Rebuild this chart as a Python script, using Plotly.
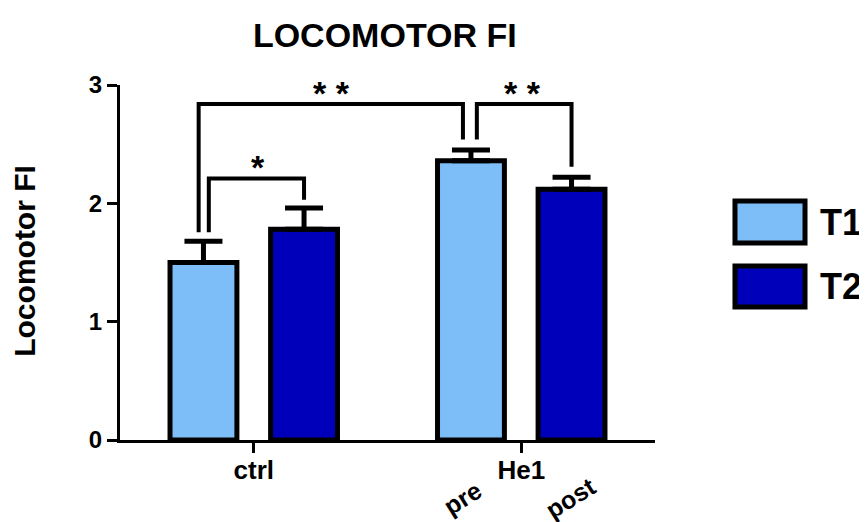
import plotly.graph_objects as go

# ---- data ----
categories = ["ctrl", "He1"]
series_names = ["T1", "T2"]
t1_values = [1.50, 2.36]
t1_errors = [0.18, 0.09]
t2_values = [1.78, 2.12]
t2_errors = [0.18, 0.10]
y_ticks = [0, 1, 2, 3]
sub_labels = ["pre", "post"]
sig_labels = ["* *", "*", "* *"]

T1_COLOR = "#7DBEF8"
T2_COLOR = "#0000BB"
FONT = "Liberation Sans, Arial, sans-serif"

xpos = list(range(len(categories)))
OFF = 0.188
BW = 0.25

fig = go.Figure()
for name, vals, errs, color, off in [
    (series_names[0], t1_values, t1_errors, T1_COLOR, -OFF),
    (series_names[1], t2_values, t2_errors, T2_COLOR, OFF),
]:
    fig.add_trace(go.Bar(
        x=[p + off for p in xpos], y=vals, width=BW, name=name,
        marker=dict(color=color, line=dict(color="black", width=5)),
        error_y=dict(type="data", array=errs, symmetric=False, arrayminus=[0] * len(errs),
                     color="black", thickness=5, width=19),
        showlegend=False,
    ))

# significance brackets (data coords)
def bracket(x0, y0, x1, y1, ytop):
    fig.add_shape(type="path",
                  path=f"M {x0},{y0} L {x0},{ytop} L {x1},{ytop} L {x1},{y1}",
                  line=dict(color="black", width=4), xref="x", yref="y")

top_big = 2.84
# ctrl T1 -> He1 T1
bracket(0 - OFF - 0.018, 1.755, 1 - OFF - 0.03, 2.54, top_big)
# ctrl T1 -> ctrl T2
bracket(0 - OFF + 0.02, 1.755, 0 + OFF, 2.03, 2.21)
# He1 T1 -> He1 T2
bracket(1 - OFF + 0.022, 2.54, 1 + OFF, 2.31, top_big)

star_font = dict(family=FONT, size=34, color="black")
fig.add_annotation(x=(0 - OFF + 1 - OFF) / 2 - 0.022, y=top_big, text=f"<b>{sig_labels[0]}</b>",
                   showarrow=False, xref="x", yref="y", xanchor="center", yanchor="bottom",
                   yshift=-10, font=star_font)
fig.add_annotation(x=(0 - OFF + 0 + OFF) / 2 + 0.015, y=2.21, text=f"<b>{sig_labels[1]}</b>",
                   showarrow=False, xref="x", yref="y", xanchor="center", yanchor="bottom",
                   yshift=-10, font=star_font)
fig.add_annotation(x=(1 - OFF + 1 + OFF) / 2 + 0.005, y=top_big, text=f"<b>{sig_labels[2]}</b>",
                   showarrow=False, xref="x", yref="y", xanchor="center", yanchor="bottom",
                   yshift=-10, font=star_font)

# sub labels pre/post
for lab, off in zip(sub_labels, [-OFF - 0.031, OFF - 0.005]):
    fig.add_annotation(x=1 + off, y=-0.163, xref="x", yref="paper", text=f"<b>{lab}</b>",
                       showarrow=False, textangle=-32, xanchor="center", yanchor="middle",
                       font=dict(family=FONT, size=25, color="black"))

# y axis title
fig.add_annotation(x=-0.18, y=0.504, xref="paper", yref="paper", text="<b>Locomotor FI</b>",
                   showarrow=False, textangle=-90, xanchor="center", yanchor="middle",
                   font=dict(family=FONT, size=30, color="black"))

# custom legend
legend_rows = [(series_names[0], T1_COLOR, 0.673, 0.555), (series_names[1], T2_COLOR, 0.490, 0.375)]
for name, color, ytop, ybot in legend_rows:
    fig.add_shape(type="rect", xref="paper", yref="paper", x0=1.1495, x1=1.2804, y0=ybot, y1=ytop,
                  fillcolor=color, line=dict(color="black", width=5))
    fig.add_annotation(x=1.305, y=(ytop + ybot) / 2, xref="paper", yref="paper", text=f"<b>{name}</b>",
                       showarrow=False, xanchor="left", yanchor="middle",
                       font=dict(family=FONT, size=36, color="black"))

fig.update_layout(
    width=859, height=522,
    margin=dict(l=112, r=212, t=77, b=90),
    plot_bgcolor="white", paper_bgcolor="white",
    title=dict(text="<b>LOCOMOTOR FI</b>", x=0.495, xref="paper", xanchor="center",
               y=1 - 27 / 522, yref="container", yanchor="middle",
               font=dict(family=FONT, size=34, color="black")),
    xaxis=dict(range=[-0.5, 1.5], tickvals=xpos, ticktext=[f"<b>{c}</b>" for c in categories],
               showline=True, linecolor="black", linewidth=3, ticks="outside", ticklen=10,
               tickwidth=3, tickcolor="black", showgrid=False, zeroline=False,
               ticklabelstandoff=-5,
               tickfont=dict(family=FONT, size=26, color="black")),
    yaxis=dict(range=[0, 3], tickvals=y_ticks, ticktext=[f"<b>{v}</b>" for v in y_ticks],
               showline=True, linecolor="black", linewidth=3, ticks="outside", ticklen=10,
               tickwidth=3, tickcolor="black", showgrid=False, zeroline=False,
               tickfont=dict(family=FONT, size=24, color="black")),
    showlegend=False,
)

fig.write_html("out.html")
